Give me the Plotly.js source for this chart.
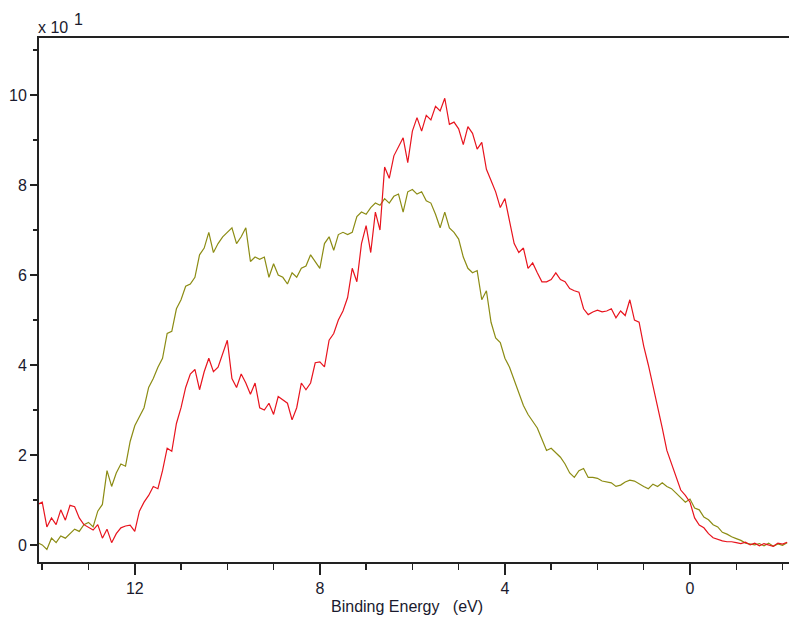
<!DOCTYPE html>
<html>
<head>
<meta charset="utf-8">
<script src="https://cdn.plot.ly/plotly-3.0.1.min.js"></script>
<style>html,body{margin:0;padding:0;background:#fff;}#chart{width:789px;height:617px;}</style>
</head>
<body>
<div id="chart"></div>
<script>
// Binding energy (eV), from 14.1 down to -2.1 in 0.1 steps
const energy = [];
for (let i = 0; i <= 162; i++) energy.push(+(14.1 - i * 0.1).toFixed(2));

// Olive spectrum (x 10^1 counts)
const oliveSeries = [
  0.05, 0.0, -0.1, 0.15, 0.05, 0.2, 0.15, 0.25, 0.35, 0.3, 0.45,
  0.5, 0.4, 0.75, 0.9, 1.65, 1.3, 1.6, 1.8, 1.75, 2.3,
  2.65, 2.85, 3.05, 3.5, 3.7, 3.95, 4.15, 4.7, 4.75, 5.25,
  5.45, 5.75, 5.8, 5.95, 6.45, 6.6, 6.95, 6.5, 6.7, 6.85,
  6.95, 7.05, 6.7, 6.85, 7.05, 6.3, 6.4, 6.35, 6.4, 5.95,
  6.25, 6.0, 5.95, 5.8, 6.05, 5.95, 6.15, 6.2, 6.45, 6.3,
  6.15, 6.7, 6.85, 6.55, 6.9, 6.95, 6.9, 6.95, 7.3, 7.4,
  7.35, 7.5, 7.6, 7.55, 7.7, 7.6, 7.75, 7.8, 7.4, 7.85,
  7.9, 7.8, 7.85, 7.65, 7.6, 7.35, 7.05, 7.4, 7.05, 6.95,
  6.8, 6.4, 6.15, 6.05, 6.1, 5.45, 5.65, 4.95, 4.6, 4.5,
  4.15, 3.95, 3.65, 3.4, 3.1, 2.9, 2.75, 2.6, 2.35, 2.1,
  2.15, 2.05, 1.95, 1.8, 1.6, 1.5, 1.65, 1.7, 1.5, 1.5,
  1.48, 1.42, 1.4, 1.38, 1.3, 1.33, 1.4, 1.44, 1.42, 1.35,
  1.3, 1.25, 1.35, 1.3, 1.38, 1.3, 1.25, 1.15, 1.05, 0.95,
  1.02, 0.82, 0.78, 0.62, 0.56, 0.45, 0.4, 0.28, 0.24, 0.18,
  0.14, 0.1, 0.04, 0.02, 0.0, 0.03, -0.02, 0.04, -0.03, 0.02,
  -0.01, 0.05
];

// Red spectrum (x 10^1 counts)
const redSeries = [
  0.9, 0.95, 0.4, 0.6, 0.45, 0.78, 0.55, 0.88, 0.85, 0.6, 0.45,
  0.38, 0.33, 0.45, 0.15, 0.35, 0.05, 0.25, 0.38, 0.42, 0.44,
  0.3, 0.75, 0.95, 1.1, 1.3, 1.25, 1.65, 2.15, 2.08, 2.7,
  3.05, 3.5, 3.8, 3.9, 3.45, 3.85, 4.15, 3.85, 3.95, 4.25,
  4.55, 3.7, 3.5, 3.8, 3.6, 3.35, 3.6, 3.05, 3.0, 3.15,
  2.9, 3.3, 3.22, 3.15, 2.78, 3.05, 3.6, 3.45, 3.6, 4.05,
  4.07, 3.96, 4.55, 4.7, 5.0, 5.2, 5.5, 6.15, 5.85, 6.7,
  7.1, 6.5, 7.4, 7.0, 8.4, 8.15, 8.65, 8.85, 9.05, 8.5,
  9.2, 9.5, 9.2, 9.55, 9.45, 9.75, 9.65, 9.93, 9.35, 9.4,
  9.25, 8.9, 9.3, 9.15, 8.8, 8.95, 8.35, 8.1, 7.85, 7.5,
  7.7, 7.2, 6.7, 6.5, 6.6, 6.15, 6.27, 6.05, 5.85, 5.85,
  5.9, 6.05, 5.9, 5.85, 5.7, 5.65, 5.62, 5.25, 5.12, 5.18,
  5.22, 5.18, 5.2, 5.25, 5.05, 5.2, 5.1, 5.45, 5.0, 4.95,
  4.42, 4.0, 3.55, 3.1, 2.6, 2.1, 1.8, 1.5, 1.22, 1.1,
  0.95, 0.6, 0.44, 0.38, 0.25, 0.16, 0.12, 0.09, 0.07, 0.07,
  0.05, 0.03, 0.06, 0.0, 0.04, -0.02, 0.03, 0.0, -0.03, 0.04,
  0.02, 0.06
];

const xTitle = 'Binding Energy   (eV)';
const yScaleBase = 'x 10';
const yScaleExp = '1';

const font = {family: 'Liberation Sans, Arial, sans-serif', size: 16, color: '#1a1a2e'};

const traces = [
  {x: energy, y: oliveSeries, type: 'scatter', mode: 'lines',
   line: {color: '#8c8c14', width: 1.2}, hoverinfo: 'skip'},
  {x: energy, y: redSeries, type: 'scatter', mode: 'lines',
   line: {color: '#e8141e', width: 1.2}, hoverinfo: 'skip'}
];

const layout = {
  width: 789, height: 617,
  margin: {l: 39, r: 0, t: 38, b: 55},
  paper_bgcolor: '#fff', plot_bgcolor: '#fff',
  showlegend: false,
  font: font,
  xaxis: {
    range: [14.07, -2.14], autorange: false,
    showgrid: false, zeroline: false,
    showline: true, linecolor: '#222', linewidth: 2, mirror: true,
    ticks: 'outside', ticklen: 11, tickwidth: 1.5, tickcolor: '#222',
    tick0: 0, dtick: 4,
    minor: {dtick: 1, tick0: 0, ticks: 'outside', ticklen: 6, tickwidth: 1.5, tickcolor: '#222', showgrid: false},
    tickfont: font
  },
  yaxis: {
    range: [-0.38, 11.27], autorange: false,
    showgrid: false, zeroline: false,
    showline: true, linecolor: '#222', linewidth: 2,
    ticks: 'outside', ticklen: 7, tickwidth: 1.5, tickcolor: '#222',
    tick0: 0, dtick: 2,
    minor: {dtick: 1, tick0: 0, ticks: 'outside', ticklen: 4, tickwidth: 1.5, tickcolor: '#222', showgrid: false},
    tickfont: font
  },
  annotations: [
    {text: xTitle, xref: 'paper', yref: 'paper', x: 0.49, y: 0, yshift: -44,
     xanchor: 'center', yanchor: 'middle', showarrow: false, font: font},
    {text: yScaleBase, xref: 'paper', yref: 'paper', x: 0, y: 1, xshift: -3, yshift: 0,
     xanchor: 'left', yanchor: 'bottom', showarrow: false, font: font},
    {text: yScaleExp, xref: 'paper', yref: 'paper', x: 0, y: 1, xshift: 33, yshift: 19,
     xanchor: 'left', yanchor: 'middle', showarrow: false, font: font}
  ]
};

Plotly.newPlot('chart', traces, layout, {displayModeBar: false, staticPlot: true});
</script>
</body>
</html>
